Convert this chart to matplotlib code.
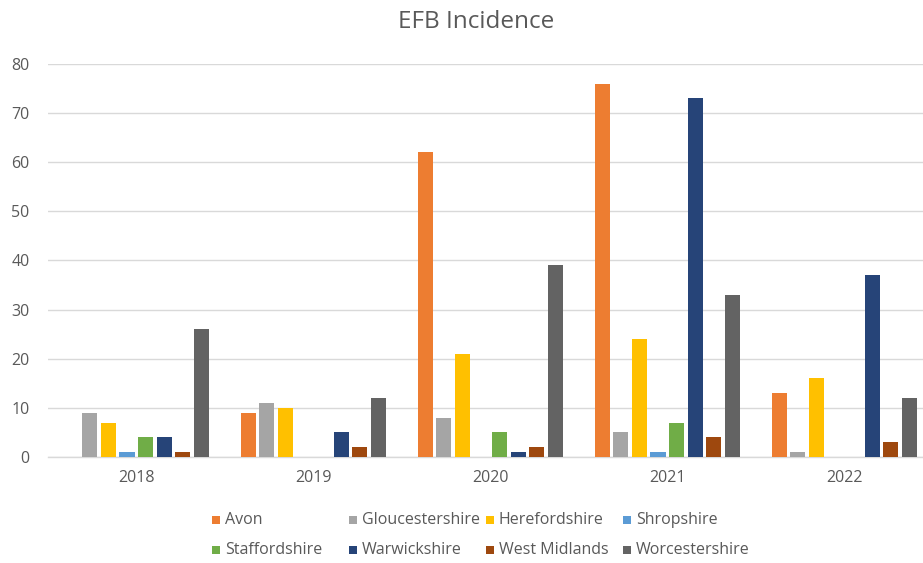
import matplotlib
matplotlib.use("Agg")
import matplotlib.pyplot as plt
from matplotlib.patches import Rectangle
import numpy as np

years = ["2018", "2019", "2020", "2021", "2022"]
counties = ["Avon", "Gloucestershire", "Herefordshire", "Shropshire",
            "Staffordshire", "Warwickshire", "West Midlands", "Worcestershire"]
avon = [0, 9, 62, 76, 13]
gloucestershire = [9, 11, 8, 5, 1]
herefordshire = [7, 10, 21, 24, 16]
shropshire = [1, 0, 0, 1, 0]
staffordshire = [4, 0, 5, 7, 0]
warwickshire = [4, 5, 1, 73, 37]
west_midlands = [1, 2, 2, 4, 3]
worcestershire = [26, 12, 39, 33, 12]
series = [avon, gloucestershire, herefordshire, shropshire,
          staffordshire, warwickshire, west_midlands, worcestershire]
colors = ["#ED7D31", "#A5A5A5", "#FFC000", "#5B9BD5",
          "#70AD47", "#264478", "#9E480E", "#636363"]

plt.rcParams["font.family"] = ["Open Sans", "DejaVu Sans"]
text_color = "#595959"
grid_color = "#D9D9D9"

W, H = 923, 563
fig = plt.figure(figsize=(W / 100, H / 100), dpi=100)
ax = fig.add_axes([47.8 / W, 106 / H, 885 / W, 393 / H])

x = np.arange(len(years))
step = 0.105
width = 0.085
for i, (vals, col) in enumerate(zip(series, colors)):
    ax.bar(x + (i - 3.5) * step, vals, width=width, color=col,
           label=counties[i], zorder=3)

ax.set_xlim(-0.5, len(years) - 0.5)
ax.set_ylim(0, 80)
ax.set_yticks(range(0, 81, 10))
ax.set_xticks(x)
ax.set_xticklabels(years)
ax.grid(axis="y", color=grid_color, linewidth=1, zorder=0)
for s in ["top", "right", "left"]:
    ax.spines[s].set_visible(False)
ax.spines["bottom"].set_color(grid_color)
ax.spines["bottom"].set_linewidth(1)
ax.tick_params(axis="both", length=0, colors=text_color, labelsize=11.5)
ax.tick_params(axis="y", pad=13)
ax.tick_params(axis="x", pad=9)

fig.text(476 / W, 1 - 22 / H, "EFB Incidence", ha="center", va="center",
         fontsize=17.5, color=text_color)

# legend: four equal-width columns, two rows
col_x0, col_w = 212, 137
row_y = [520, 550]
sq = 8
for k, name in enumerate(counties):
    r, c = divmod(k, 4)
    left = col_x0 + c * col_w
    yc = row_y[r]
    fig.patches.append(Rectangle((left / W, 1 - (yc + sq / 2) / H), sq / W, sq / H,
                                 transform=fig.transFigure, facecolor=colors[k],
                                 edgecolor="none", figure=fig))
    fig.text((left + 13) / W, 1 - yc / H, name, ha="left", va="center",
             fontsize=11.5, color=text_color)

fig.savefig("out.png", dpi=100)
